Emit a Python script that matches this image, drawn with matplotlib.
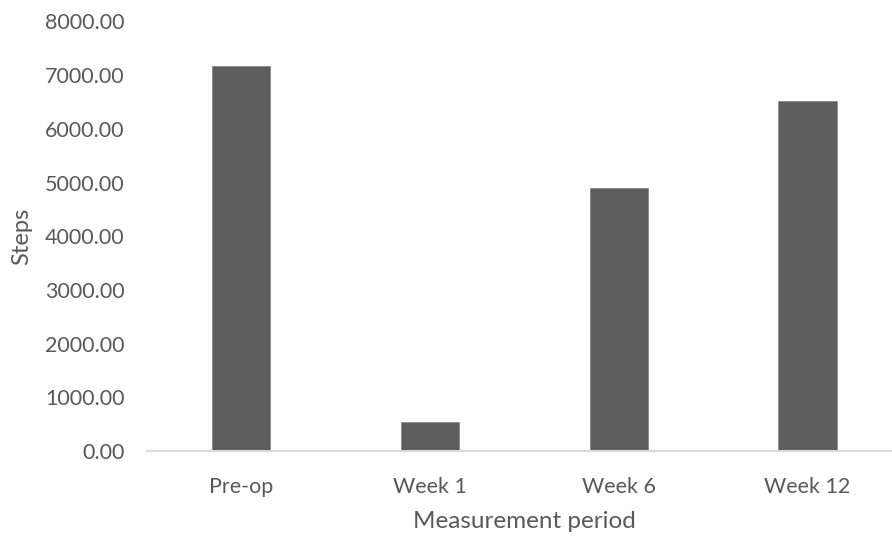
import matplotlib
matplotlib.use("Agg")
from matplotlib import pyplot as plt

periods = ["Pre-op", "Week 1", "Week 6", "Week 12"]
steps = [7171, 534, 4904, 6513]
yticks = [0, 1000, 2000, 3000, 4000, 5000, 6000, 7000, 8000]

plt.rcParams['font.family'] = ['Lato', 'DejaVu Sans']
text_col = '#595959'

fig = plt.figure(figsize=(8.92, 5.36), dpi=100)
ax = fig.add_axes([0.1646, 0.1586, 0.8466, 0.8013])

x = list(range(len(periods)))
ax.bar(x, steps, width=0.31, color='#5e5e5e', edgecolor='#8a8a8a', linewidth=0.6)

ax.set_xlim(-0.5, len(periods) - 0.5)
ax.set_ylim(0, 8000)
ax.set_yticks(yticks)
ax.set_yticklabels(["%.2f" % v for v in yticks])
ax.set_xticks(x)
ax.set_xticklabels(periods)

for s in ['top', 'right', 'left']:
    ax.spines[s].set_visible(False)
ax.spines['bottom'].set_color('#d9d9d9')
ax.spines['bottom'].set_linewidth(1.5)

ax.tick_params(axis='y', length=0, pad=16, labelsize=15.5, labelcolor=text_col)
ax.tick_params(axis='x', length=0, pad=19, labelsize=15.5, labelcolor=text_col)

ax.set_xlabel("Measurement period", fontsize=17.5, color=text_col, labelpad=10)
ax.set_ylabel("Steps", fontsize=17, color=text_col, labelpad=9)

fig.savefig("out.png", dpi=100)
